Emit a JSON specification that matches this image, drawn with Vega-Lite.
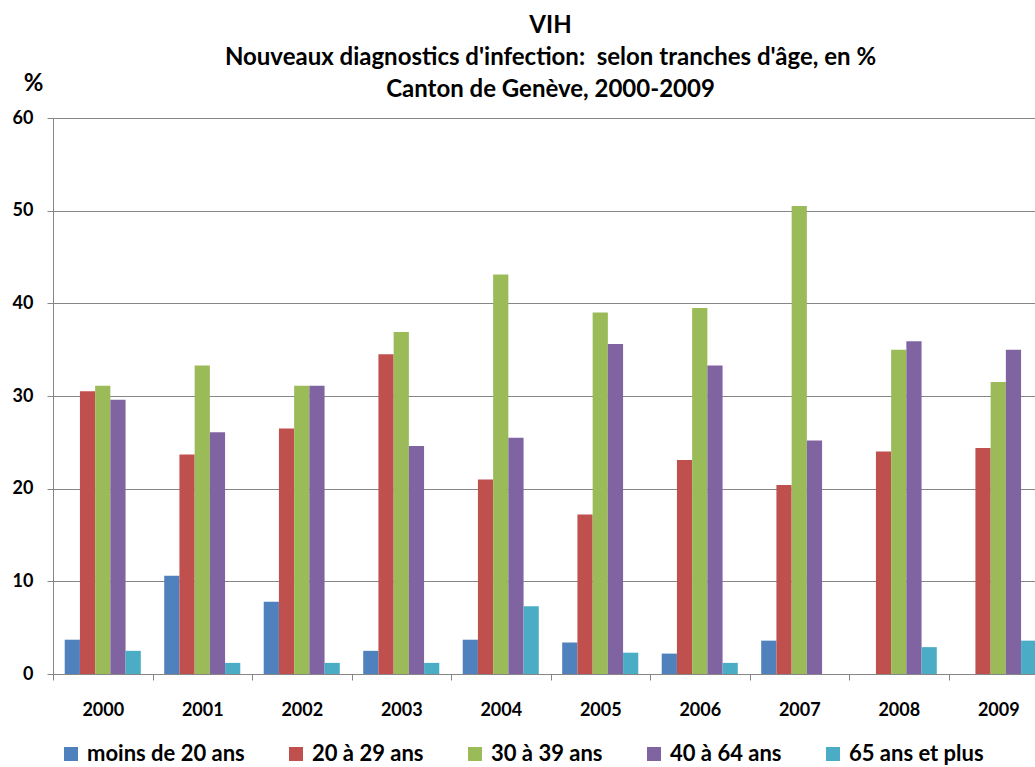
{
  "$schema": "https://vega.github.io/schema/vega-lite/v6.json",
  "autosize": "none",
  "width": 995,
  "height": 556,
  "padding": {"left": 53, "top": 118, "right": 0, "bottom": 93},
  "background": "white",
  "title": {
    "text": ["VIH", "Nouveaux diagnostics d'infection:\u00a0 selon tranches d'âge, en %", "Canton de Genève, 2000-2009"],
    "font": "Lato",
    "fontSize": 24,
    "fontWeight": "bold",
    "lineHeight": 32,
    "color": "black",
    "anchor": "middle",
    "offset": -31
  },
  "data": {
    "values": [
      {"annee": "2000", "age": "moins de 20 ans", "pct": 3.7},
      {"annee": "2000", "age": "20 à 29 ans", "pct": 30.5},
      {"annee": "2000", "age": "30 à 39 ans", "pct": 31.1},
      {"annee": "2000", "age": "40 à 64 ans", "pct": 29.6},
      {"annee": "2000", "age": "65 ans et plus", "pct": 2.5},
      {"annee": "2001", "age": "moins de 20 ans", "pct": 10.6},
      {"annee": "2001", "age": "20 à 29 ans", "pct": 23.7},
      {"annee": "2001", "age": "30 à 39 ans", "pct": 33.3},
      {"annee": "2001", "age": "40 à 64 ans", "pct": 26.1},
      {"annee": "2001", "age": "65 ans et plus", "pct": 1.2},
      {"annee": "2002", "age": "moins de 20 ans", "pct": 7.8},
      {"annee": "2002", "age": "20 à 29 ans", "pct": 26.5},
      {"annee": "2002", "age": "30 à 39 ans", "pct": 31.1},
      {"annee": "2002", "age": "40 à 64 ans", "pct": 31.1},
      {"annee": "2002", "age": "65 ans et plus", "pct": 1.2},
      {"annee": "2003", "age": "moins de 20 ans", "pct": 2.5},
      {"annee": "2003", "age": "20 à 29 ans", "pct": 34.5},
      {"annee": "2003", "age": "30 à 39 ans", "pct": 36.9},
      {"annee": "2003", "age": "40 à 64 ans", "pct": 24.6},
      {"annee": "2003", "age": "65 ans et plus", "pct": 1.2},
      {"annee": "2004", "age": "moins de 20 ans", "pct": 3.7},
      {"annee": "2004", "age": "20 à 29 ans", "pct": 21.0},
      {"annee": "2004", "age": "30 à 39 ans", "pct": 43.1},
      {"annee": "2004", "age": "40 à 64 ans", "pct": 25.5},
      {"annee": "2004", "age": "65 ans et plus", "pct": 7.3},
      {"annee": "2005", "age": "moins de 20 ans", "pct": 3.4},
      {"annee": "2005", "age": "20 à 29 ans", "pct": 17.2},
      {"annee": "2005", "age": "30 à 39 ans", "pct": 39.0},
      {"annee": "2005", "age": "40 à 64 ans", "pct": 35.6},
      {"annee": "2005", "age": "65 ans et plus", "pct": 2.3},
      {"annee": "2006", "age": "moins de 20 ans", "pct": 2.2},
      {"annee": "2006", "age": "20 à 29 ans", "pct": 23.1},
      {"annee": "2006", "age": "30 à 39 ans", "pct": 39.5},
      {"annee": "2006", "age": "40 à 64 ans", "pct": 33.3},
      {"annee": "2006", "age": "65 ans et plus", "pct": 1.2},
      {"annee": "2007", "age": "moins de 20 ans", "pct": 3.6},
      {"annee": "2007", "age": "20 à 29 ans", "pct": 20.4},
      {"annee": "2007", "age": "30 à 39 ans", "pct": 50.5},
      {"annee": "2007", "age": "40 à 64 ans", "pct": 25.2},
      {"annee": "2007", "age": "65 ans et plus", "pct": 0},
      {"annee": "2008", "age": "moins de 20 ans", "pct": 0},
      {"annee": "2008", "age": "20 à 29 ans", "pct": 24.0},
      {"annee": "2008", "age": "30 à 39 ans", "pct": 35.0},
      {"annee": "2008", "age": "40 à 64 ans", "pct": 35.9},
      {"annee": "2008", "age": "65 ans et plus", "pct": 2.9},
      {"annee": "2009", "age": "moins de 20 ans", "pct": 0},
      {"annee": "2009", "age": "20 à 29 ans", "pct": 24.4},
      {"annee": "2009", "age": "30 à 39 ans", "pct": 31.5},
      {"annee": "2009", "age": "40 à 64 ans", "pct": 35.0},
      {"annee": "2009", "age": "65 ans et plus", "pct": 3.6}
    ]
  },
  "mark": {"type": "bar"},
  "encoding": {
    "x": {
      "field": "annee",
      "type": "nominal",
      "title": null,
      "scale": {"paddingInner": 0, "paddingOuter": 0},
      "axis": {
        "labelAngle": 0,
        "labelFont": "Lato",
        "labelFontSize": 18,
        "labelFontWeight": "bold",
        "labelColor": "black",
        "labelPadding": 21,
        "tickBand": "extent",
        "tickSize": 6,
        "tickColor": "#868686",
        "domainColor": "#868686"
      }
    },
    "xOffset": {
      "field": "age",
      "type": "nominal",
      "sort": ["moins de 20 ans", "20 à 29 ans", "30 à 39 ans", "40 à 64 ans", "65 ans et plus"],
      "scale": {"paddingInner": 0, "paddingOuter": 0.77}
    },
    "y": {
      "field": "pct",
      "type": "quantitative",
      "scale": {"domain": [0, 60]},
      "axis": {
        "values": [0, 10, 20, 30, 40, 50, 60],
        "title": "%",
        "titleAngle": 0,
        "titleAlign": "center",
        "titleBaseline": "middle",
        "titleX": -20,
        "titleY": -35,
        "titleFont": "Lato",
        "titleFontSize": 24,
        "titleFontWeight": "bold",
        "titleColor": "black",
        "labelFont": "Lato",
        "labelFontSize": 18,
        "labelFontWeight": "bold",
        "labelColor": "black",
        "labelPadding": 14,
        "tickSize": 6,
        "tickColor": "#868686",
        "domainColor": "#868686",
        "grid": true,
        "gridColor": "#868686"
      }
    },
    "color": {
      "field": "age",
      "type": "nominal",
      "sort": ["moins de 20 ans", "20 à 29 ans", "30 à 39 ans", "40 à 64 ans", "65 ans et plus"],
      "scale": {
        "domain": ["moins de 20 ans", "20 à 29 ans", "30 à 39 ans", "40 à 64 ans", "65 ans et plus"],
        "range": ["#4F81BD", "#C0504D", "#9BBB59", "#8064A2", "#4BACC6"]
      },
      "legend": {
        "title": null,
        "orient": "none",
        "direction": "horizontal",
        "legendX": 7,
        "legendY": 625,
        "symbolType": "square",
        "symbolSize": 196,
        "symbolStrokeWidth": 0,
        "symbolOpacity": 1,
        "labelOffset": 5,
        "labelLimit": 400,
        "labelFont": "Lato",
        "labelFontSize": 22,
        "labelFontWeight": "bold",
        "labelColor": "black",
        "columnPadding": 40
      }
    }
  },
  "config": {
    "view": {"stroke": null},
    "axis": {"gridWidth": 1}
  }
}
